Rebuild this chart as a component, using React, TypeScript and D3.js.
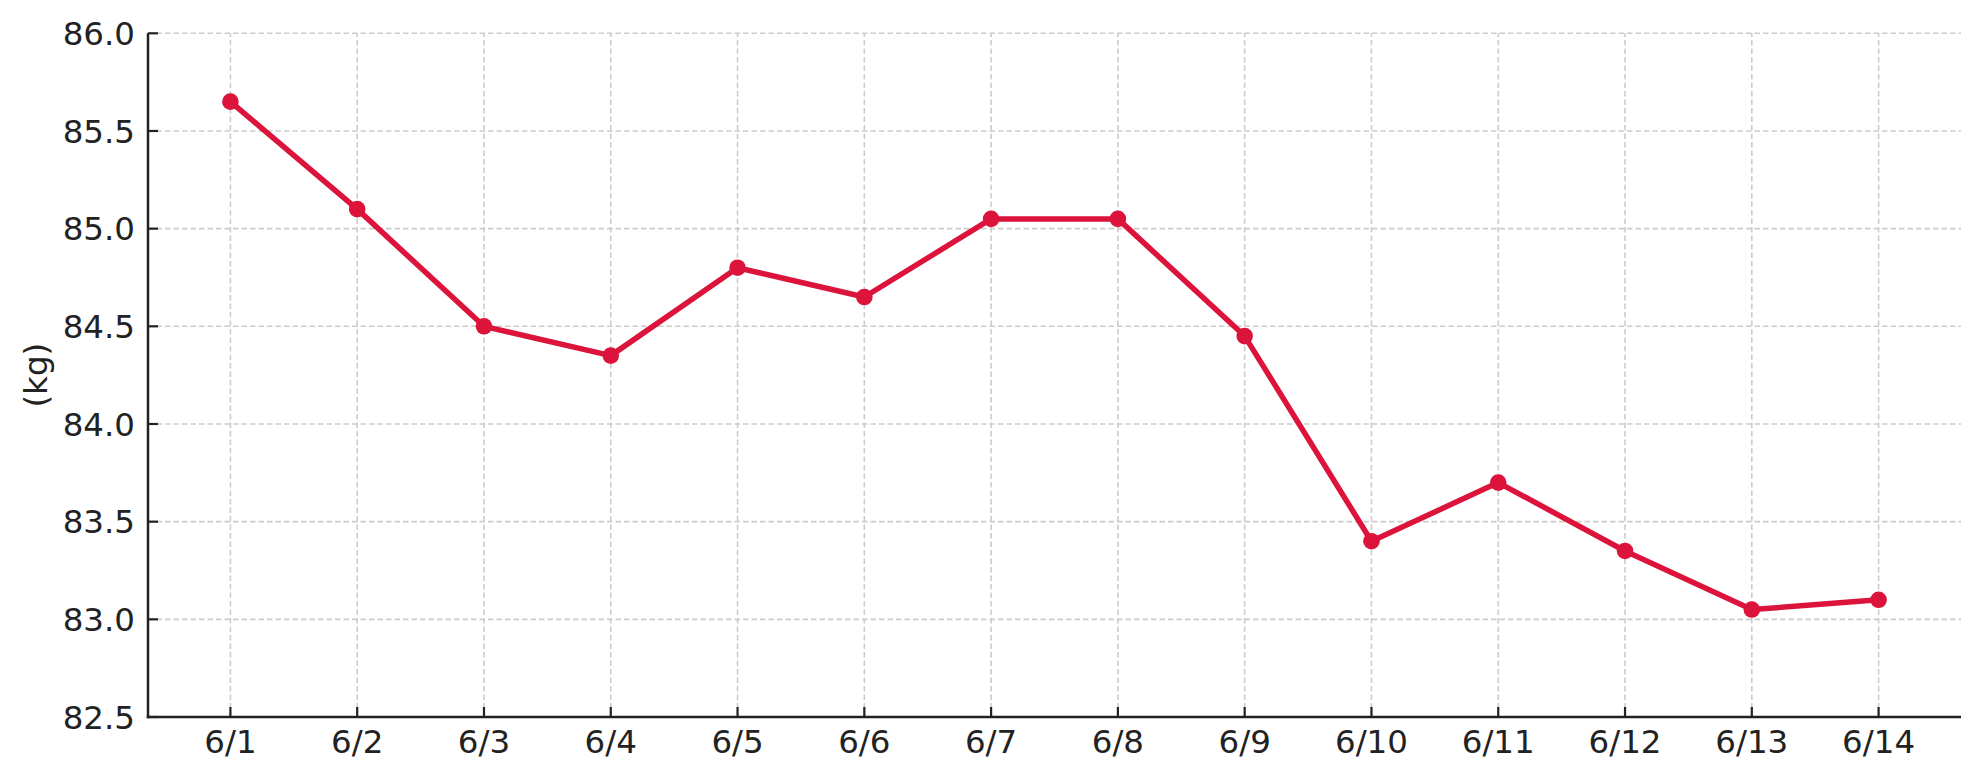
import React from "react";
import * as d3 from "d3";

const categories = ["6/1","6/2","6/3","6/4","6/5","6/6","6/7","6/8","6/9","6/10","6/11","6/12","6/13","6/14"];
const weights = [85.65, 85.1, 84.5, 84.35, 84.8, 84.65, 85.05, 85.05, 84.45, 83.4, 83.7, 83.35, 83.05, 83.1];
const yTicks = [82.5, 83.0, 83.5, 84.0, 84.5, 85.0, 85.5, 86.0];
const yLabel = "(kg)";

const W = 1979, H = 780;
const left = 148, right = 1961, top = 33.3, bottom = 717;
const FONT = "DejaVu Sans, sans-serif";
const RED = "#DC143C";
const TXT = "#222222";

export default function App() {
  const x = d3.scaleLinear().domain([-0.65, categories.length - 1 + 0.65]).range([left, right]);
  const y = d3.scaleLinear().domain([82.5, 86.0]).range([bottom, top]);
  const line = d3.line<number>().x((_, i) => x(i)).y((d) => y(d));
  return (
    <div style={{ position: "absolute", left: 0, top: 0, width: W, height: H, background: "#fff" }}>
      <svg width={W} height={H} style={{ display: "block" }}>
        <rect width={W} height={H} fill="#fff" />
        {yTicks.map((t) => (
          <line key={"gy" + t} x1={left} x2={right} y1={y(t)} y2={y(t)} stroke="#cccccc" strokeWidth={1.6} strokeDasharray="5.5,3" />
        ))}
        {categories.map((c, i) => (
          <line key={"gx" + c} x1={x(i)} x2={x(i)} y1={bottom} y2={top} stroke="#cccccc" strokeWidth={1.6} strokeDasharray="5.5,3" />
        ))}
        <line x1={left} x2={left} y1={top} y2={bottom + 1.25} stroke={TXT} strokeWidth={2.5} />
        <line x1={left - 1.25} x2={right} y1={bottom} y2={bottom} stroke={TXT} strokeWidth={2.5} />
        {yTicks.map((t) => (
          <g key={"ty" + t}>
            <line x1={left} x2={left + 10} y1={y(t)} y2={y(t)} stroke={TXT} strokeWidth={2.2} />
            <text x={135} y={y(t)} dy="0.36em" textAnchor="end" fontFamily={FONT} fontSize={32.5} fill={TXT}>
              {t.toFixed(1)}
            </text>
          </g>
        ))}
        {categories.map((c, i) => (
          <g key={"tx" + c}>
            <line x1={x(i)} x2={x(i)} y1={bottom} y2={bottom - 10} stroke={TXT} strokeWidth={2.2} />
            <text x={x(i)} y={753} textAnchor="middle" fontFamily={FONT} fontSize={32.5} fill={TXT}>
              {c}
            </text>
          </g>
        ))}
        <text transform={`translate(${47},${y(84.25)}) rotate(-90)`} textAnchor="middle" fontFamily={FONT} fontSize={32.5} fill={TXT}>
          {yLabel}
        </text>
        <path d={line(weights) || ""} fill="none" stroke={RED} strokeWidth={5.5} strokeLinejoin="round" />
        {weights.map((v, i) => (
          <circle key={"p" + i} cx={x(i)} cy={y(v)} r={8.3} fill={RED} />
        ))}
      </svg>
    </div>
  );
}
